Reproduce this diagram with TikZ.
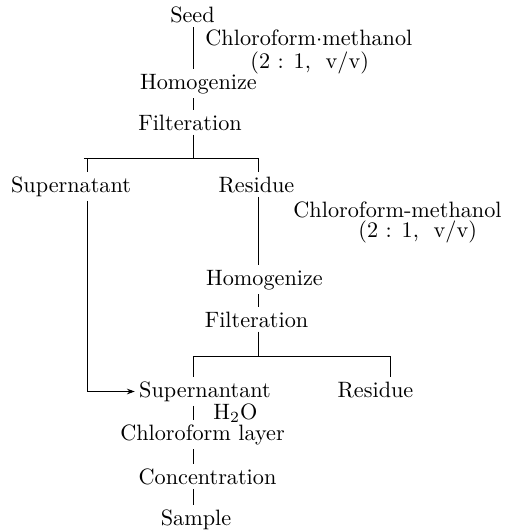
\documentclass[tikz,border=0pt]{standalone}
\usetikzlibrary{arrows.meta}
\begin{document}
\begin{tikzpicture}[x=0.45pt,y=-0.45pt,
  lbl/.style={inner sep=1.8pt, anchor=base, font=\fontsize{10}{12}\selectfont},
  note/.style={inner sep=0pt, anchor=base west, font=\fontsize{10}{12}\selectfont},
  conn/.style={draw, line width=0.4pt},
  arr/.style={conn, -{Stealth[length=3.5pt,width=2.5pt]}}]
\path[use as bounding box] (0,0) rectangle (510,531);
% spines
\coordinate (sp) at (193,0);
\coordinate (rx) at (258,0);
\coordinate (lx) at (87,0);
% nodes
\node[lbl] (seed) at (192.5,22.5) {Seed};
\node[note] (cm1) at (205,45.5) {Chloroform$\cdot$methanol};
\node[note] (r1) at (250,68.5) {(2 : 1,\ \ v/v)};
\node[lbl] (hom1) at (198.5,89) {Homogenize};
\node[lbl] (fil1) at (190,130) {Filteration};
\node[lbl] (sup1) at (71,192) {Supernatant};
\node[lbl] (res1) at (256.5,192) {Residue};
\node[note] (cm2) at (293,217) {Chloroform-methanol};
\node[note] (r2) at (358,237) {(2 : 1,\ \ v/v)};
\node[lbl] (hom2) at (264.5,285) {Homogenize};
\node[lbl] (fil2) at (256.5,327) {Filteration};
\node[lbl] (sup2) at (205,397) {Supernantant};
\node[lbl] (res2) at (375.5,397) {Residue};
\node[note] (h2o) at (213,419) {H$_2$O};
\node[lbl] (chl) at (202.5,440) {Chloroform layer};
\node[lbl] (con) at (207.5,484) {Concentration};
\node[lbl] (sam) at (196,525) {Sample};
% branch coordinates
\coordinate (b1l) at (84,158);
\coordinate (b1r) at (258,158);
\coordinate (b2l) at (193,356);
\coordinate (b2r) at (390,356);
\coordinate (corner) at (87,391.5);
% connectors
\draw[conn] (seed.south -| sp) -- (hom1.north -| sp);
\draw[conn] (hom1.south -| sp) -- (fil1.north -| sp);
\draw[conn] (fil1.south -| sp) -- (sp |- b1l);
\draw[conn] (b1l) -- (b1r);
\draw[conn] (b1l -| lx) -- (sup1.north -| lx);
\draw[conn] (b1r) -- (res1.north -| rx);
\draw[conn] (res1.south -| rx) -- (hom2.north -| rx);
\draw[conn] (hom2.south -| rx) -- (fil2.north -| rx);
\draw[conn] (fil2.south -| rx) -- (rx |- b2l);
\draw[conn] (b2l) -- (b2r);
\draw[conn] (b2l) -- (sup2.north -| b2l);
\draw[conn] (b2r) -- (res2.north -| b2r);
\draw[arr] (sup1.south -| lx) -- (corner) -- (sup2.west |- corner);
\draw[conn] (sup2.south -| sp) -- (chl.north -| sp);
\draw[conn] (chl.south -| sp) -- (con.north -| sp);
\draw[conn] (con.south -| sp) -- (sam.north -| sp);
\end{tikzpicture}
\end{document}
